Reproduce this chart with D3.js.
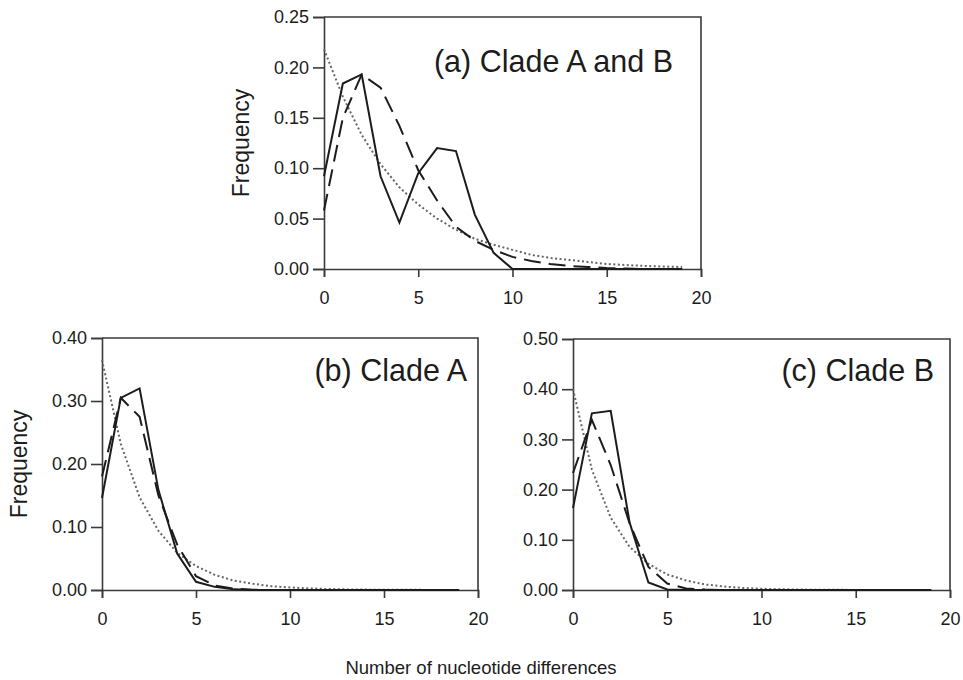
<!DOCTYPE html>
<html>
<head>
<meta charset="utf-8">
<script src="https://cdn.jsdelivr.net/npm/d3@7"></script>
<style>
  body { margin: 0; background: #fff; }
  svg { display: block; font-family: "Liberation Sans", Arial, sans-serif; }
</style>
</head>
<body>
<svg id="chart" width="963" height="680"></svg>
<script>
// number of nucleotide differences (x categories)
const diffs = [0, 1, 2, 3, 4, 5, 6, 7, 8, 9, 10, 11, 12, 13, 14, 15, 16, 17, 18, 19];
const xTicks = [0, 5, 10, 15, 20];

// (a) Clade A and B
const obsAB = [0.092, 0.184, 0.193, 0.092, 0.046, 0.095, 0.120, 0.117, 0.054, 0.016, 0.000, 0, 0, 0, 0, 0, 0, 0, 0, 0];
const expAB = [0.058, 0.150, 0.193, 0.180, 0.142, 0.098, 0.068, 0.042, 0.028, 0.019, 0.012, 0.008, 0.005, 0.003, 0.002, 0.001, 0.0005, 0, 0, 0];
const constAB = [0.218, 0.171, 0.133, 0.104, 0.081, 0.064, 0.050, 0.039, 0.030, 0.024, 0.019, 0.014, 0.011, 0.009, 0.007, 0.005, 0.004, 0.003, 0.0025, 0.002];
const yTicksAB = [0, 0.05, 0.10, 0.15, 0.20, 0.25];

// (b) Clade A
const obsA = [0.146, 0.305, 0.320, 0.159, 0.058, 0.013, 0.005, 0.001, 0, 0, 0, 0, 0, 0, 0, 0, 0, 0, 0, 0];
const expA = [0.180, 0.305, 0.275, 0.150, 0.072, 0.022, 0.007, 0.002, 0.0005, 0, 0, 0, 0, 0, 0, 0, 0, 0, 0, 0];
const constA = [0.365, 0.232, 0.147, 0.094, 0.059, 0.038, 0.024, 0.015, 0.010, 0.006, 0.004, 0.0025, 0.0016, 0.001, 0.0006, 0.0004, 0.0003, 0.0002, 0.0001, 0.0001];
const yTicksA = [0, 0.10, 0.20, 0.30, 0.40];

// (c) Clade B
const obsB = [0.163, 0.352, 0.357, 0.135, 0.015, 0.001, 0, 0, 0, 0, 0, 0, 0, 0, 0, 0, 0, 0, 0, 0];
const expB = [0.233, 0.339, 0.249, 0.133, 0.046, 0.013, 0.003, 0.001, 0, 0, 0, 0, 0, 0, 0, 0, 0, 0, 0, 0];
const constB = [0.400, 0.240, 0.144, 0.086, 0.052, 0.031, 0.019, 0.011, 0.007, 0.004, 0.0024, 0.0015, 0.0009, 0.0005, 0.0003, 0.0002, 0.0001, 0.0001, 0, 0];
const yTicksB = [0, 0.10, 0.20, 0.30, 0.40, 0.50];

const svg = d3.select("#chart");
const ink = "#1c1c1c";
const axisInk = "#3a3a3a";

// draws one framed panel with its three curves
function drawPanel(p) {
    const x = d3.scaleLinear().domain([0, 20]).range([p.left, p.right]);
    const y = d3.scaleLinear().domain([0, p.yMax]).range([p.bottom, p.top]);
    const g = svg.append("g");

    // frame (top and right)
    g.append("path")
        .attr("d", `M${p.left},${p.top}H${p.right}V${p.bottom}`)
        .attr("fill", "none").attr("stroke", axisInk).attr("stroke-width", 1.6);

    const yAxis = g.append("g")
        .attr("transform", `translate(${p.left},0)`)
        .call(d3.axisLeft(y).tickValues(p.yTicks).tickFormat(d3.format(".2f")).tickSize(11).tickPadding(4));
    const xAxis = g.append("g")
        .attr("transform", `translate(0,${p.bottom})`)
        .call(d3.axisBottom(x).tickValues(xTicks).tickSize(8).tickPadding(14));

    [yAxis, xAxis].forEach(ax => {
        ax.select(".domain").attr("stroke", axisInk).attr("stroke-width", 1.6);
        ax.selectAll(".tick line").attr("stroke", axisInk).attr("stroke-width", 1.6);
        ax.selectAll("text").attr("font-size", 18).attr("fill", ink)
            .attr("font-family", "'Liberation Sans', Arial, sans-serif");
    });

    const line = vals => d3.line()
        .x((d, i) => x(diffs[i]))
        .y(d => y(d))(vals);

    // constant-size expectation (dotted)
    g.append("path").attr("d", line(p.constant))
        .attr("fill", "none").attr("stroke", "#666").attr("stroke-width", 2)
        .attr("stroke-dasharray", "2,2.5");
    // expected under expansion (dashed)
    g.append("path").attr("d", line(p.expected))
        .attr("fill", "none").attr("stroke", ink).attr("stroke-width", 2)
        .attr("stroke-dasharray", "17,8");
    // observed (solid)
    g.append("path").attr("d", line(p.observed))
        .attr("fill", "none").attr("stroke", ink).attr("stroke-width", 2);

    g.append("text")
        .attr("x", p.titleX).attr("y", p.titleY)
        .attr("text-anchor", "end")
        .attr("font-size", 30.5).attr("fill", ink)
        .text(p.title);

    if (p.yLabelX) {
        g.append("text")
            .attr("transform", `translate(${p.yLabelX},${(p.top + p.bottom) / 2}) rotate(-90)`)
            .attr("text-anchor", "middle")
            .attr("font-size", 23).attr("fill", ink)
            .text("Frequency");
    }
}

drawPanel({
    left: 324, right: 701, top: 17, bottom: 269, yMax: 0.25, yTicks: yTicksAB,
    observed: obsAB, expected: expAB, constant: constAB,
    title: "(a) Clade A and B", titleX: 673, titleY: 72, yLabelX: 249
});
drawPanel({
    left: 102, right: 478, top: 338, bottom: 590, yMax: 0.40, yTicks: yTicksA,
    observed: obsA, expected: expA, constant: constA,
    title: "(b) Clade A", titleX: 467, titleY: 381, yLabelX: 27
});
drawPanel({
    left: 573, right: 950, top: 339, bottom: 590, yMax: 0.50, yTicks: yTicksB,
    observed: obsB, expected: expB, constant: constB,
    title: "(c) Clade B", titleX: 934, titleY: 381
});

svg.append("text")
    .attr("x", 481).attr("y", 674)
    .attr("text-anchor", "middle")
    .attr("font-size", 18.5).attr("fill", ink)
    .text("Number of nucleotide differences");
</script>
</body>
</html>
